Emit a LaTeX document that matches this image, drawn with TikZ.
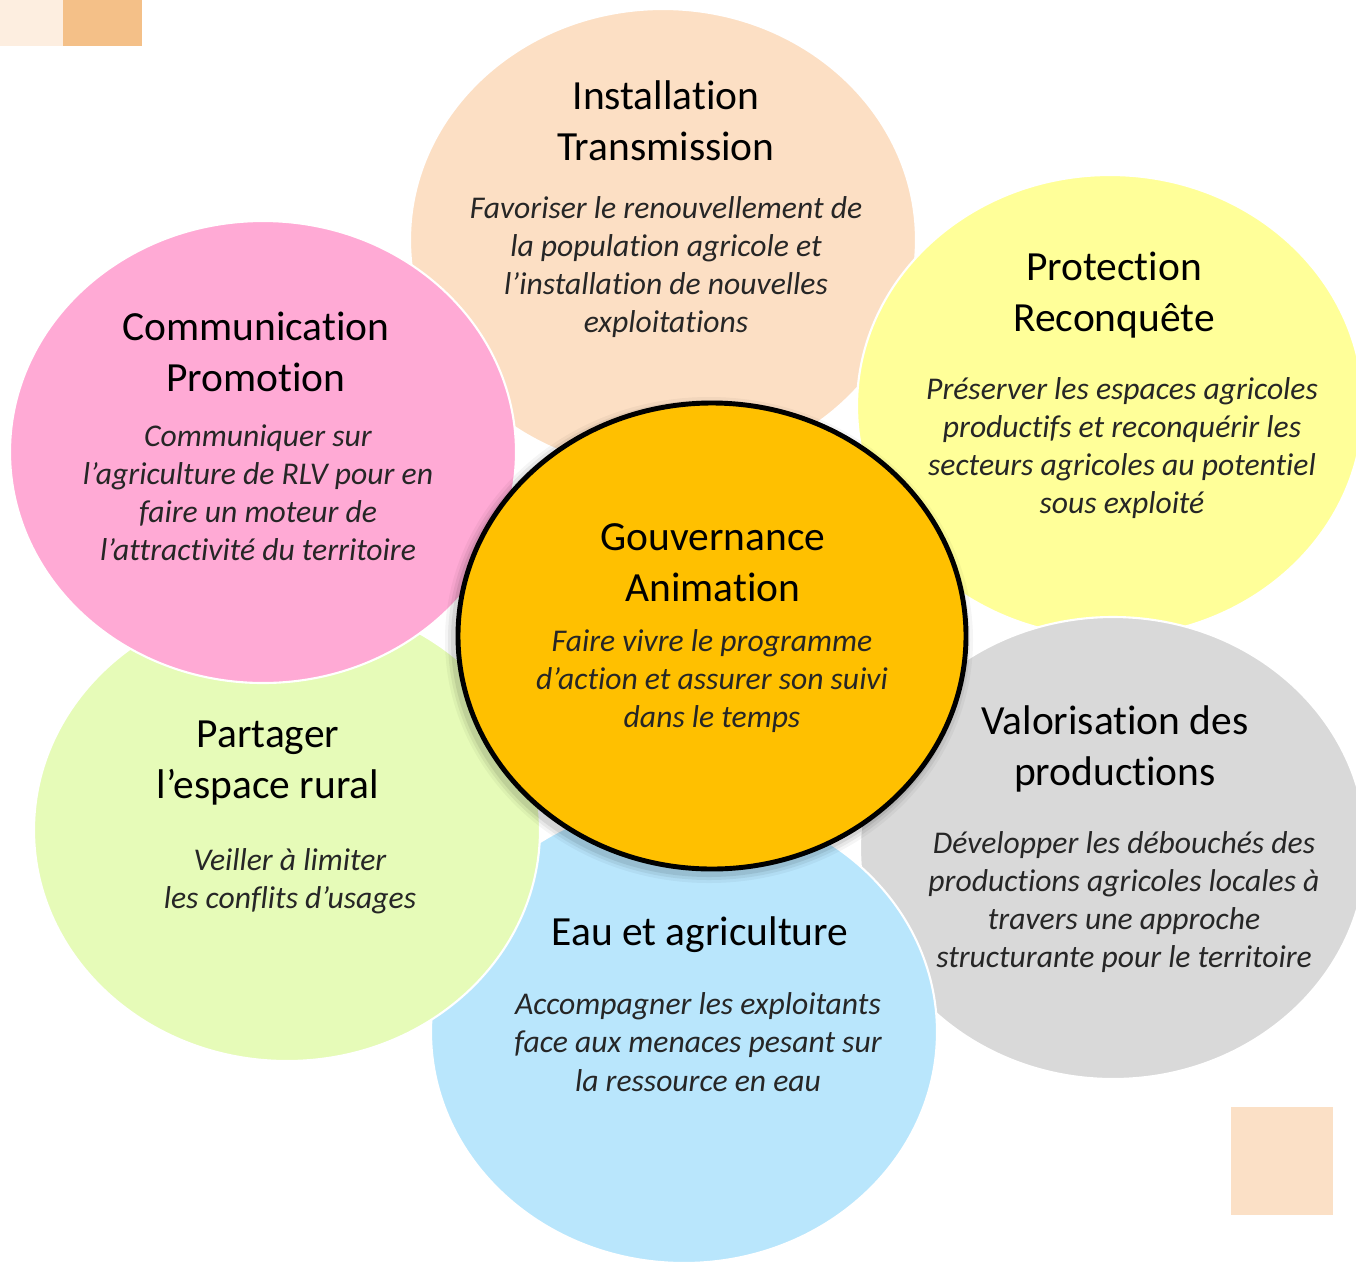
\documentclass[tikz,border=0pt]{standalone}
\usepackage{fontspec}
\setmainfont[Ligatures=NoCommon]{Carlito}
\usepackage{tikz}

\begin{document}
\begin{tikzpicture}[x=0.02cm,y=-0.02cm]

% Couleurs pastel
\definecolor{colInst}{HTML}{FCDFC4}
\definecolor{colProt}{HTML}{FFFF99}
\definecolor{colComm}{HTML}{FFAAD5}
\definecolor{colPart}{HTML}{E6FBB8}
\definecolor{colEau}{HTML}{B9E6FC}
\definecolor{colValo}{HTML}{D9D9D9}
\definecolor{colGouv}{HTML}{FFC000}
\definecolor{colCarreA}{HTML}{FDEEE0}
\definecolor{colCarreB}{HTML}{F4C088}
\definecolor{colCarreC}{HTML}{FBE0C6}
\definecolor{colTexte}{HTML}{262626}

\tikzset{
  bulle/.style={draw=white, line width=1.2pt},
  titre/.style={font=\fontsize{23.6}{29}\selectfont, align=center},
  texte/.style={font=\fontsize{18}{21.7}\selectfont\itshape, align=center, text=colTexte}
}

% Rayons des bulles
\def\rx{253}
\def\ry{231}

\useasboundingbox (0,0) rectangle (1356,1262);

% Carres decoratifs
\fill[colCarreA] (0,0) rectangle (63,46);
\fill[colCarreB] (63,0) rectangle (142,46);
\fill[colCarreC] (1231,1107) rectangle (1333,1215);

% Bulles
\path[bulle, fill=colInst] (663,240) ellipse [x radius=\rx, y radius=\ry];
\path[bulle, fill=colProt] (1110,406) ellipse [x radius=\rx, y radius=\ry];
\path[bulle, fill=colValo] (1113,848) ellipse [x radius=\rx, y radius=\ry];
\path[bulle, fill=colEau] (684,1032) ellipse [x radius=\rx, y radius=\ry];
\path[bulle, fill=colPart] (287,830) ellipse [x radius=\rx, y radius=\ry];
\path[bulle, fill=colComm] (263,452) ellipse [x radius=\rx, y radius=\ry];

% Ombre du cercle central
\foreach \d/\o in {10/0.04,7/0.06,4/0.08}{
  \fill[black, opacity=\o] (709,640) ellipse [x radius=254+\d, y radius=233+\d];
}
\path[fill=colGouv, draw=black, line width=2.8pt] (712,636) ellipse [x radius=254, y radius=233];

% Installation
\node[titre] (inst-titre) at (666,121) {Installation\\Transmission};
\node[texte] (inst-texte) at (666,267) {Favoriser le renouvellement de\\la population agricole et\\l’installation de nouvelles\\exploitations};

% Protection
\node[titre] (prot-titre) at (1114,295) {Protection\\Reconquête};
\node[texte] (prot-texte) at (1122,448) {Préserver les espaces agricoles\\productifs et reconquérir les\\secteurs agricoles au potentiel\\sous exploité};

% Communication
\node[titre] (comm-titre) at (256,352) {Communication\\Promotion};
\node[texte] (comm-texte) at (258,493) {Communiquer sur\\l’agriculture de RLV pour en\\faire un moteur de\\l’attractivité du territoire};

% Gouvernance
\node[titre] (gouv-titre) at (713,563) {Gouvernance\\Animation};
\node[texte] (gouv-texte) at (712,681) {Faire vivre le programme\\d’action et assurer son suivi\\dans le temps};

% Partager
\node[titre] (part-titre) at (268,763) {Partager\\l’espace rural};
\node[texte] (part-texte) at (290,881) {Veiller à limiter\\les conflits d’usages};

% Valorisation
\node[titre] (valo-titre) at (1115,749) {Valorisation des\\productions};
\node[texte] (valo-texte) at (1124,902) {Développer les débouchés des\\productions agricoles locales à\\travers une approche\\structurante pour le territoire};

% Eau
\node[titre] (eau-titre) at (700,935) {Eau et agriculture};
\node[texte] (eau-texte) at (698,1042) {Accompagner les exploitants\\face aux menaces pesant sur\\la ressource en eau};
\end{tikzpicture}
\end{document}
